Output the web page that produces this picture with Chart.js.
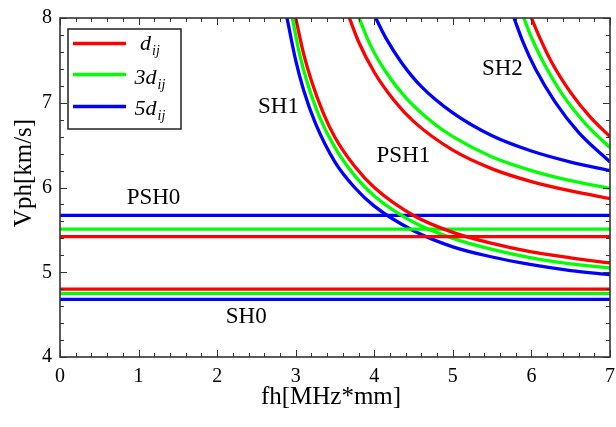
<!DOCTYPE html>
<html>
<head>
<meta charset="utf-8">
<script src="https://cdn.jsdelivr.net/npm/chart.js@4.4.0/dist/chart.umd.min.js"></script>
<style>
  html, body { margin: 0; padding: 0; background: #fff; }
</style>
</head>
<body>
<canvas id="chart" width="616" height="427"></canvas>
<script>
// thickness cases -> legend rows (prefix + d_ij)
const prefixes = ["", "3", "5"];
const colors = ["#ff0000", "#00ff00", "#0000ff"];

// axis ranges / ticks
const xTicks = [0, 1, 2, 3, 4, 5, 6, 7];
const yTicks = [4, 5, 6, 7, 8];

// flat fundamental modes (km/s), one per thickness case
const sh0 = [4.80, 4.75, 4.68];
const psh0 = [5.42, 5.51, 5.67];

// SH1 branches
const sh1X_1 = [3.0, 3.1, 3.2, 3.35, 3.5, 3.75, 4.0, 4.5, 5.0, 5.5, 6.0, 6.5, 7.0];
const sh1V_1 = [8.0, 7.58, 7.26, 6.88, 6.59, 6.25, 6.0, 5.67, 5.47, 5.34, 5.24, 5.17, 5.11];
const sh1X_3 = [2.957, 3.05, 3.15, 3.3, 3.5, 3.75, 4.0, 4.5, 5.0, 5.5, 6.0, 6.5, 7.0];
const sh1V_3 = [8.0, 7.57, 7.23, 6.84, 6.47, 6.14, 5.90, 5.59, 5.40, 5.27, 5.17, 5.10, 5.05];
const sh1X_5 = [2.889, 3.0, 3.1, 3.25, 3.5, 3.75, 4.0, 4.5, 5.0, 5.5, 6.0, 6.5, 7.0];
const sh1V_5 = [8.0, 7.50, 7.15, 6.76, 6.30, 6.00, 5.78, 5.49, 5.30, 5.18, 5.09, 5.02, 4.97];

// PSH1 branches
const psh1X_1 = [3.683, 3.8, 4.0, 4.25, 4.5, 5.0, 5.5, 6.0, 6.5, 7.0];
const psh1V_1 = [8.0, 7.72, 7.36, 7.03, 6.78, 6.44, 6.22, 6.07, 5.96, 5.87];
const psh1X_3 = [3.806, 3.95, 4.15, 4.4, 4.75, 5.0, 5.5, 6.0, 6.5, 7.0];
const psh1V_3 = [8.0, 7.68, 7.36, 7.06, 6.76, 6.60, 6.36, 6.20, 6.08, 5.99];
const psh1X_5 = [4.018, 4.15, 4.35, 4.6, 5.0, 5.5, 6.0, 6.5, 7.0];
const psh1V_5 = [8.0, 7.76, 7.47, 7.19, 6.88, 6.61, 6.43, 6.30, 6.20];

// SH2 branches
const sh2X_1 = [6.0, 6.1, 6.25, 6.5, 6.75, 7.0];
const sh2V_1 = [8.0, 7.78, 7.49, 7.12, 6.83, 6.60];
const sh2X_3 = [5.903, 6.0, 6.15, 6.4, 6.7, 7.0];
const sh2V_3 = [8.0, 7.77, 7.48, 7.09, 6.74, 6.47];
const sh2X_5 = [5.778, 5.9, 6.05, 6.3, 6.6, 7.0];
const sh2V_5 = [8.0, 7.70, 7.40, 7.01, 6.65, 6.30];

// mode labels
const modeNames = ["SH0", "PSH0", "SH1", "PSH1", "SH2"];
const modeLabelX = [2.37, 1.19, 2.78, 4.37, 5.63];
const modeLabelY = [4.48, 5.89, 6.96, 6.38, 7.41];

const serif = "'Liberation Serif', 'Times New Roman', serif";

const zip = (xs, ys) => xs.map((v, i) => ({ x: v, y: ys[i] }));
const flat = (v) => [{ x: xTicks[0], y: v }, { x: xTicks[xTicks.length - 1], y: v }];

const curves = [
  [sh1X_1, sh1V_1, sh1X_3, sh1V_3, sh1X_5, sh1V_5],
  [psh1X_1, psh1V_1, psh1X_3, psh1V_3, psh1X_5, psh1V_5],
  [sh2X_1, sh2V_1, sh2X_3, sh2V_3, sh2X_5, sh2V_5],
];

let datasets = [];
for (let k = 0; k < 3; k++) {
  const base = { borderColor: colors[k], borderWidth: 3.3, pointRadius: 0, fill: false };
  datasets.push({ ...base, data: flat(sh0[k]) });
  datasets.push({ ...base, data: flat(psh0[k]) });
  curves.forEach((c) => {
    datasets.push({ ...base, data: zip(c[k * 2], c[k * 2 + 1]), cubicInterpolationMode: "monotone" });
  });
}

const decor = {
  id: "decor",
  afterDatasetsDraw(chart) {
    const { ctx, chartArea: a, scales } = chart;
    const x = scales.x, y = scales.y;
    ctx.save();

    const seg = (x1, y1, x2, y2) => {
      ctx.beginPath(); ctx.moveTo(x1, y1); ctx.lineTo(x2, y2); ctx.stroke();
    };

    // inward ticks on all four sides, minor every 0.2
    ctx.strokeStyle = "#333";
    ctx.lineWidth = 1;
    for (let i = 0; i <= 35; i++) {
      const px = Math.round(x.getPixelForValue(i * 0.2)) + 0.5;
      const len = i % 5 === 0 ? 7 : 4;
      seg(px, a.bottom, px, a.bottom - len);
      seg(px, a.top, px, a.top + len);
    }
    for (let i = 0; i <= 20; i++) {
      const py = Math.round(y.getPixelForValue(4 + i * 0.2)) + 0.5;
      const len = i % 5 === 0 ? 7 : 4;
      seg(a.left, py, a.left + len, py);
      seg(a.right, py, a.right - len, py);
    }

    // frame
    ctx.lineWidth = 1.6;
    ctx.strokeRect(a.left, a.top, a.right - a.left, a.bottom - a.top);

    // mode labels
    ctx.fillStyle = "#000";
    ctx.font = "23px " + serif;
    ctx.textAlign = "center";
    ctx.textBaseline = "middle";
    modeNames.forEach((n, i) => {
      ctx.fillText(n, x.getPixelForValue(modeLabelX[i]), y.getPixelForValue(modeLabelY[i]) + 1);
    });

    // axis titles
    ctx.font = "25px " + serif;
    ctx.fillText("fh[MHz*mm]", 331, 397);
    ctx.save();
    ctx.translate(24, 173);
    ctx.rotate(-Math.PI / 2);
    ctx.fillText("Vph[km/s]", 0, 0);
    ctx.restore();

    // legend box
    ctx.fillStyle = "#fff";
    ctx.fillRect(68, 29, 113, 100);
    ctx.strokeStyle = "#222";
    ctx.lineWidth = 1.5;
    ctx.strokeRect(68, 29, 113, 100);
    const rowY = [43.5, 74.5, 106.5];
    const baseY = [49.5, 84, 115];
    ctx.textAlign = "left";
    ctx.textBaseline = "alphabetic";
    prefixes.forEach((p, k) => {
      ctx.strokeStyle = colors[k];
      ctx.lineWidth = 3.3;
      seg(73, rowY[k], 126, rowY[k]);
      const main = p + "d";
      ctx.font = "italic 22px " + serif;
      const w1 = ctx.measureText(main).width;
      ctx.font = "italic 14px " + serif;
      const w2 = ctx.measureText("ij").width;
      const x0 = 150 - (w1 + w2 + 1) / 2;
      ctx.fillStyle = "#000";
      ctx.font = "italic 22px " + serif;
      ctx.fillText(main, x0, baseY[k]);
      ctx.font = "italic 14px " + serif;
      ctx.fillText("ij", x0 + w1 + 1, baseY[k] + 5);
    });

    ctx.restore();
  },
};

new Chart(document.getElementById("chart"), {
  type: "line",
  data: { datasets },
  options: {
    responsive: false,
    devicePixelRatio: 1,
    animation: false,
    layout: { padding: { top: 18, right: 6, left: 0, bottom: 0 } },
    plugins: { legend: { display: false }, tooltip: { enabled: false } },
    scales: {
      x: {
        type: "linear",
        min: xTicks[0],
        max: xTicks[xTicks.length - 1],
        afterFit: (s) => { s.height = 70; s.paddingLeft = 0; s.paddingRight = 0; },
        afterBuildTicks: (s) => { s.ticks = xTicks.map((v) => ({ value: v })); },
        grid: { display: false, drawTicks: false },
        border: { display: false },
        ticks: { color: "#000", padding: 8, font: { family: serif, size: 20 }, maxRotation: 0 },
      },
      y: {
        type: "linear",
        min: yTicks[0],
        max: yTicks[yTicks.length - 1],
        afterFit: (s) => { s.width = 60; s.paddingTop = 0; s.paddingBottom = 0; },
        afterBuildTicks: (s) => { s.ticks = yTicks.map((v) => ({ value: v })); },
        grid: { display: false, drawTicks: false },
        border: { display: false },
        ticks: { color: "#000", padding: 8, font: { family: serif, size: 20 } },
      },
    },
  },
  plugins: [decor],
});
</script>
</body>
</html>
